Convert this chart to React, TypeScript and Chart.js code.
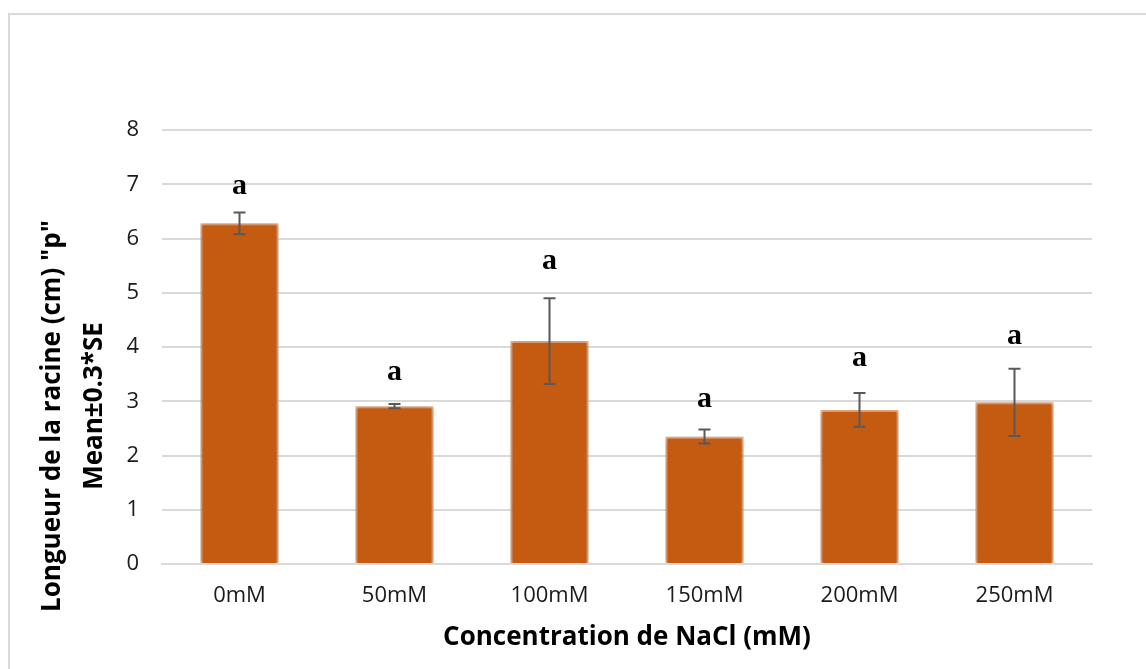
import React, { useEffect, useRef } from "react";
import { Chart, registerables } from "chart.js";

Chart.register(...registerables);

const categories = ["0mM", "50mM", "100mM", "150mM", "200mM", "250mM"];
const meanValues = [6.28, 2.91, 4.11, 2.35, 2.84, 2.98];
const errorValues = [0.2, 0.04, 0.79, 0.13, 0.31, 0.62];
const letters = ["a", "a", "a", "a", "a", "a"];
const letterValues = [6.97, 3.54, 5.58, 3.04, 3.8, 4.2];
const yTicks = [0, 1, 2, 3, 4, 5, 6, 7, 8];
const yTitleLines = ['Longueur de la racine (cm) "p"', "Mean±0.3*SE"];
const xTitle = "Concentration de NaCl (mM)";

const FONT = "'Open Sans', 'Noto Sans', sans-serif";

const overlayPlugin = {
  id: "overlay",
  beforeDatasetDraw(chart: any) {
    const ctx = chart.ctx;
    ctx.save();
    ctx.shadowColor = "rgba(0,0,0,0.35)";
    ctx.shadowBlur = 5;
    ctx.shadowOffsetX = 0;
    ctx.shadowOffsetY = 0;
  },
  afterDatasetDraw(chart: any) {
    chart.ctx.restore();
  },
  afterDraw(chart: any) {
    const ctx = chart.ctx;
    const xs = chart.scales.x;
    const ys = chart.scales.y;
    ctx.save();
    // error bars
    ctx.strokeStyle = "#595959";
    ctx.lineWidth = 2;
    meanValues.forEach((v, i) => {
      const x = xs.getPixelForValue(i);
      const yTop = ys.getPixelForValue(v + errorValues[i]);
      const yBot = ys.getPixelForValue(v - errorValues[i]);
      ctx.beginPath();
      ctx.moveTo(x, yTop);
      ctx.lineTo(x, yBot);
      ctx.moveTo(x - 6, yTop);
      ctx.lineTo(x + 6, yTop);
      ctx.moveTo(x - 6, yBot);
      ctx.lineTo(x + 6, yBot);
      ctx.stroke();
    });
    // letters
    ctx.fillStyle = "#000";
    ctx.font = "bold 30px 'Liberation Serif', 'Times New Roman', serif";
    ctx.textAlign = "center";
    ctx.textBaseline = "middle";
    letters.forEach((l, i) => {
      ctx.fillText(l, xs.getPixelForValue(i), ys.getPixelForValue(letterValues[i]));
    });
    // axis titles
    ctx.font = `bold 26px ${FONT}`;
    ctx.fillStyle = "#000";
    ctx.fillText(xTitle, 627, 638);
    ctx.save();
    ctx.rotate(-Math.PI / 2);
    ctx.fillText(yTitleLines[0], -416, 53);
    ctx.fillText(yTitleLines[1], -406, 95);
    ctx.restore();
    ctx.restore();
  },
};

export default function App() {
  const ref = useRef<HTMLCanvasElement>(null);
  useEffect(() => {
    document.body.style.margin = "0";
    const chart = new Chart(ref.current!, {
      type: "bar",
      data: {
        labels: categories,
        datasets: [
          {
            data: meanValues,
            backgroundColor: "#c55a11",
            borderColor: "#f4b183",
            borderWidth: 2,
            categoryPercentage: 1,
            barPercentage: 0.505,
          },
        ],
      },
      plugins: [overlayPlugin],
      options: {
        animation: false,
        responsive: false,
        maintainAspectRatio: false,
        layout: { padding: { top: 130, right: 54, left: 0, bottom: 0 } },
        plugins: { legend: { display: false }, tooltip: { enabled: false } },
        scales: {
          x: {
            grid: { display: false, drawTicks: false },
            border: { display: true, color: "#d9d9d9", width: 2 },
            ticks: { color: "#1a1a1a", font: { family: FONT, size: 22 }, padding: 19 },
            afterFit(s: any) {
              s.height = 105;
            },
          },
          y: {
            min: 0,
            max: 8,
            afterBuildTicks(s: any) {
              s.ticks = yTicks.map((v) => ({ value: v }));
            },
            grid: { color: "#d9d9d9", lineWidth: 2, drawTicks: false },
            border: { display: false },
            ticks: { color: "#1a1a1a", font: { family: FONT, size: 22 }, padding: 23 },
            afterFit(s: any) {
              s.width = 162;
            },
          },
        },
      },
    });
    return () => chart.destroy();
  }, []);
  return (
    <div style={{ position: "fixed", left: 0, top: 0, width: 1146, height: 669, overflow: "hidden", background: "#fff" }}>
      <div
        style={{
          position: "absolute",
          left: 8,
          top: 13,
          width: 1200,
          height: 700,
          borderLeft: "2px solid #d9d9d9",
          borderTop: "2px solid #d9d9d9",
        }}
      />
      <canvas ref={ref} width={1146} height={669} style={{ position: "absolute", left: 0, top: 0 }} />
    </div>
  );
}
